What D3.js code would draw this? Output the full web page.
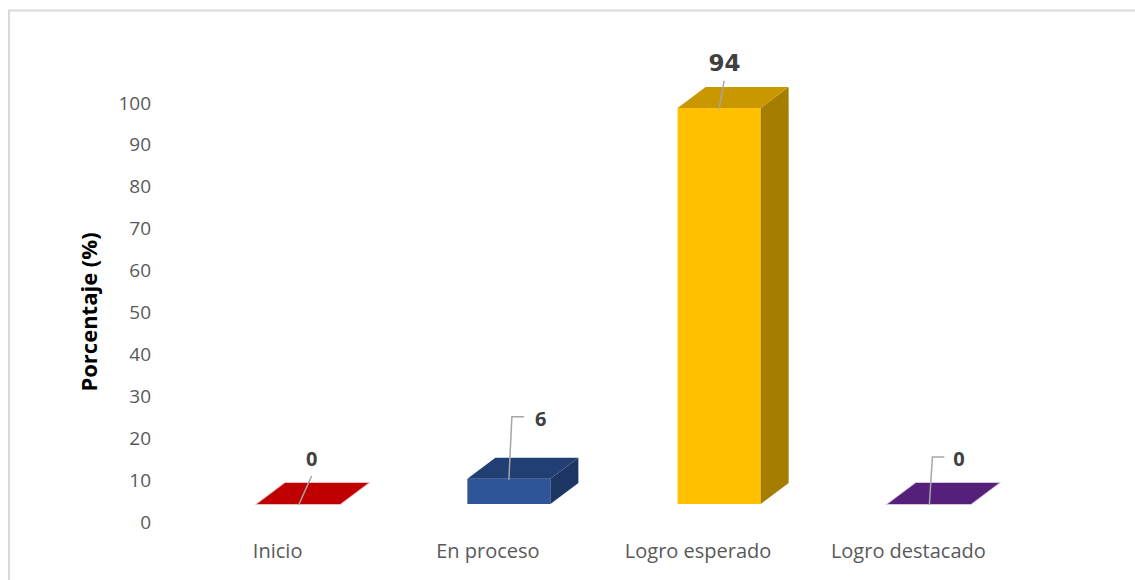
<!DOCTYPE html>
<html>
<head>
<meta charset="utf-8">
<title>Porcentaje por nivel de logro</title>
<script src="https://cdn.jsdelivr.net/npm/d3@7/dist/d3.min.js"></script>
<style type="text/css">
body { margin: 0; background: #fff; }
svg { display: block; }
</style>
</head>
<body>
<script type="text/javascript">
// datos del grafico
var categorias = ["Inicio", "En proceso", "Logro esperado", "Logro destacado"];
var valores = [0, 6, 94, 0];
var yTicks = [0, 10, 20, 30, 40, 50, 60, 70, 80, 90, 100];

// colores: frente, tapa, lado
var colFrente = ["#c00000", "#2e5597", "#ffc000", "#5c2585"];
var colTapa   = ["#c00000", "#223f73", "#c99800", "#55207a"];
var colLado   = ["#a00000", "#1e3663", "#a57d00", "#4a1b6a"];

// posicion de etiquetas (respecto al centro superior del frente)
// [codo x, codo y, fin x, fin y, texto x, texto y, ancla]
var etiq = [
	[13, -28, 13, -28, 13, -45, "middle"],
	[3, -62, 15, -62, 26, -60, "start"],
	[5, -27, 5, -27, 5.5, -45, "middle"],
	[3, -47, 15, -47, 24, -45, "start"]
];

var width = 1135, height = 580;
var depthX = 28, depthY = -21;	// profundidad 3D

var svg = d3.select("body").append("svg")
	.attr("width", width)
	.attr("height", height);

// marco
svg.append("rect")
	.attr("x", 9).attr("y", 10.5)
	.attr("width", 1200).attr("height", 700)
	.attr("fill", "none")
	.attr("stroke", "#d9d9d9")
	.attr("stroke-width", 2);

var x = d3.scaleBand()
	.domain(categorias)
	.range([152, 1076])
	.paddingInner(0.605)
	.paddingOuter(0.5);

// escala de las barras (plano frontal)
var yBar = d3.scaleLinear().domain([0, 100]).range([504, 82.7]);
// escala del eje (plano posterior)
var yAxis = d3.scaleLinear().domain([0, 100]).range([522, 103]);

var ejeY = svg.append("g")
	.attr("transform", "translate(151,0)")
	.call(d3.axisLeft(yAxis).tickValues(yTicks).tickSize(0).tickPadding(0));
ejeY.select(".domain").remove();
ejeY.selectAll("text")
	.attr("fill", "#595959")
	.style("font-family", "'Open Sans', sans-serif")
	.style("font-size", "19px");

svg.append("text")
	.attr("transform", "translate(97,312) rotate(-90)")
	.attr("text-anchor", "middle")
	.style("font-family", "'Open Sans', sans-serif")
	.style("font-weight", "bold")
	.style("font-size", "22px")
	.attr("fill", "#000")
	.text("Porcentaje (%)");

// barras 3D
var barras = svg.selectAll(".barra")
	.data(valores)
	.enter().append("g")
	.attr("class", "barra");

function pts(a) { return a.map(function(p){ return p.join(","); }).join(" "); }

barras.each(function(d, i) {
	var g = d3.select(this);
	var x0 = x(categorias[i]), x1 = x0 + x.bandwidth();
	var y0 = yBar(0), y1 = yBar(d);
	// frente
	g.append("polygon")
		.attr("points", pts([[x0, y0], [x1, y0], [x1, y1], [x0, y1]]))
		.attr("fill", colFrente[i]);
	// lado
	g.append("polygon")
		.attr("points", pts([[x1, y0], [x1 + depthX, y0 + depthY], [x1 + depthX, y1 + depthY], [x1, y1]]))
		.attr("fill", colLado[i]);
	// tapa
	g.append("polygon")
		.attr("points", pts([[x0, y1], [x1, y1], [x1 + depthX, y1 + depthY], [x0 + depthX, y1 + depthY]]))
		.attr("fill", colTapa[i])
		.attr("stroke", d === 0 ? colTapa[i] : "none")
		.attr("stroke-opacity", 0.35)
		.attr("stroke-width", 1.5);
});

// etiquetas de datos con lineas guia
barras.each(function(d, i) {
	var g = d3.select(this);
	var cx = x(categorias[i]) + x.bandwidth() / 2;
	var cy = yBar(d);
	var e = etiq[i];
	g.append("polyline")
		.attr("points", pts([[cx, cy + 1], [cx + e[0], cy + e[1]], [cx + e[2], cy + e[3]]]))
		.attr("fill", "none")
		.attr("stroke", "#a6a6a6")
		.attr("stroke-width", 1.5);
	g.append("text")
		.attr("x", cx + e[4])
		.attr("y", cy + e[5])
		.attr("dy", "0.35em")
		.attr("text-anchor", e[6])
		.attr("fill", "#404040")
		.style("font-family", d >= 10 ? "'DejaVu Sans', sans-serif" : "'Open Sans', sans-serif")
		.style("font-weight", "bold")
		.style("font-size", d >= 10 ? "23px" : "20px")
		.text(d);
});

// etiquetas de categorias
svg.append("g").selectAll("text")
	.data(categorias)
	.enter().append("text")
	.attr("x", function(c) { return x(c) + x.bandwidth() / 2 - 21; })
	.attr("y", 551)
	.attr("dy", "0.35em")
	.attr("text-anchor", "middle")
	.attr("fill", "#595959")
	.style("font-family", "'Open Sans', sans-serif")
	.style("font-size", "20px")
	.text(function(c) { return c; });
</script>
</body>
</html>
